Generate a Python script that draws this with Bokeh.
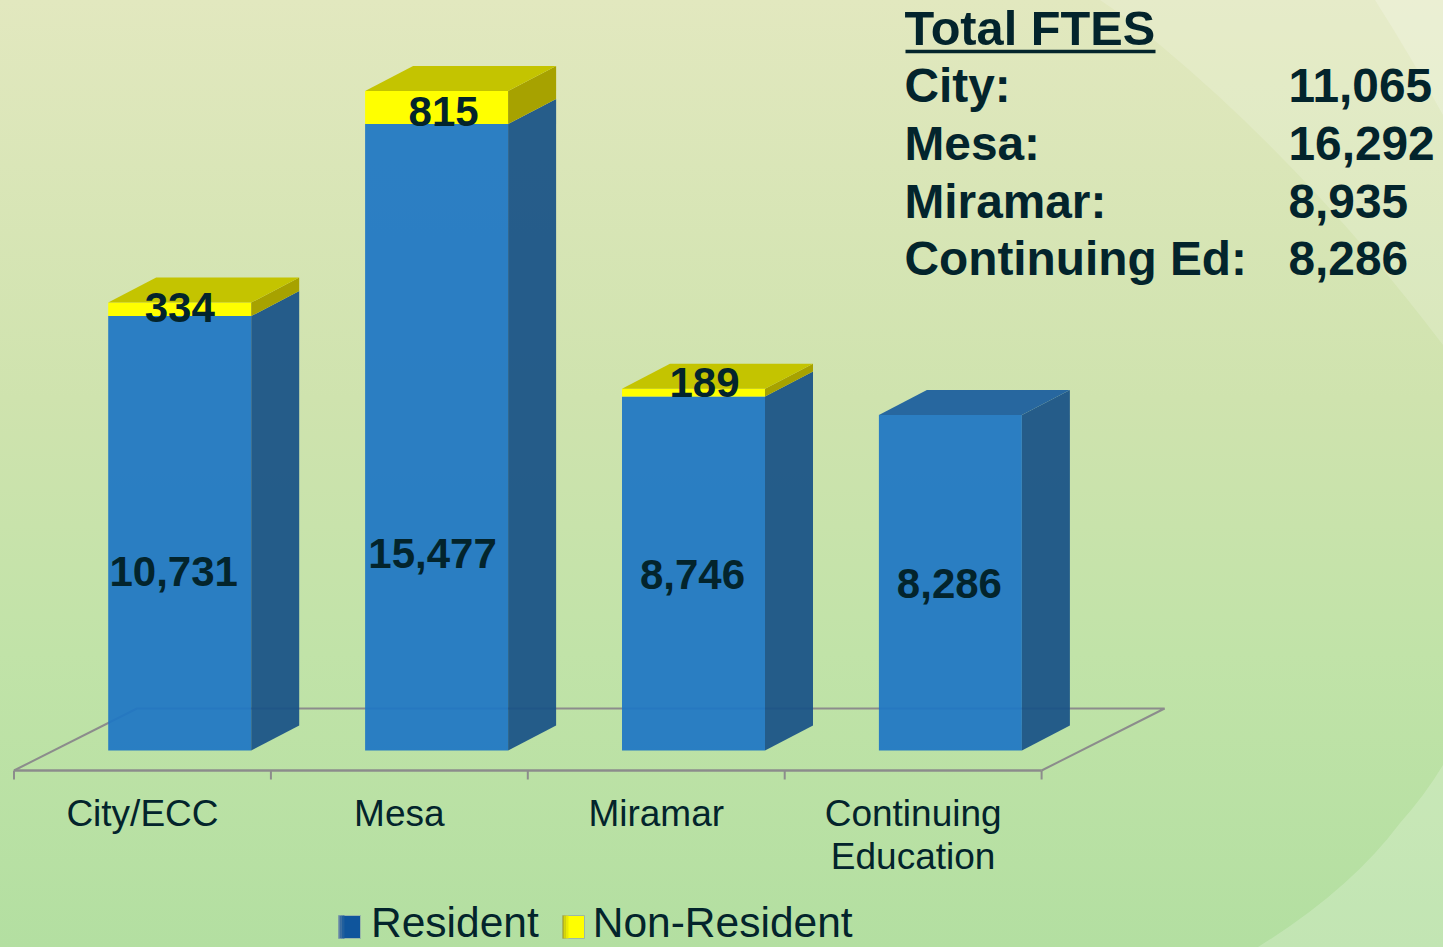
from urllib.parse import quote
from bokeh.plotting import figure
from bokeh.models import Range1d, Legend, LegendItem, ColumnDataSource
from bokeh.core.properties import value
from bokeh.embed import file_html
from bokeh.resources import INLINE

categories = ["City/ECC", "Mesa", "Miramar", "Continuing\nEducation"]
resident = [10731, 15477, 8746, 8286]
non_resident = [334, 815, 189, 0]
resident_labels = ["10,731", "15,477", "8,746", "8,286"]
non_resident_labels = ["334", "815", "189", ""]
summary_names = ["City:", "Mesa:", "Miramar:", "Continuing Ed:"]
summary_values = ["11,065", "16,292", "8,935", "8,286"]
summary_title = "Total FTES"

# Layout constants (reference pixels)
W, H = 1443, 947
PX_PER_X, PX_PER_Y = 256.9, 0.04048
X0_PX, Y0_PX = 13.5, 750
def dx(px): return px / PX_PER_X
def dy(px): return px / PX_PER_Y
def xd(px): return (px - X0_PX) / PX_PER_X
def yd(px): return (Y0_PX - px) / PX_PER_Y

FONT = "Liberation Sans"
INK = "#03242c"
BLUE, BLUE_SIDE, BLUE_TOP = "#1e76c4", "#185286", "#27679f"
YEL, YEL_SIDE, YEL_TOP = "#ffff00", "#a7a200", "#c4c400"
GRID = "#8c8c8c"
SWATCH_BLUE = ["#5f83a5", "#3d6fa0", "#1f5f9d", "#0f559c"]
SWATCH_YEL = ["#b5b51a", "#d0d010", "#eaea05", "#ffff00"]

p = figure(width=W, height=H, x_range=Range1d(xd(0), xd(W)),
           y_range=Range1d(yd(H), yd(0)), output_backend="svg",
           toolbar_location=None, min_border=0, outline_line_color=None,
           background_fill_color=None, border_fill_color=None,
           x_axis_type=None, y_axis_type=None)
p.grid.visible = False

# Floor and ticks
n = len(categories)
fy, fdx, fdy = yd(770), dx(123), dy(62)
p.line([0, fdx, n + fdx, n], [fy, fy + fdy, fy + fdy, fy], line_color=GRID, line_width=2)
p.line([0, n], [fy, fy], line_color=GRID, line_width=2.5)
p.segment(x0=list(range(n + 1)), y0=[fy] * (n + 1), x1=list(range(n + 1)),
          y1=[yd(779)] * (n + 1), line_color=GRID, line_width=2)

# Bars
left = [i + dx(94.2) for i in range(n)]
right = [l + dx(143) for l in left]
tops = [r + q for r, q in zip(resident, non_resident)]
ox, oy = dx(48), dy(25)
A = 0.93
p.quad(left=left, right=right, bottom=[0] * n, top=resident, fill_color=BLUE,
       fill_alpha=A, line_color=None)
p.quad(left=left, right=right, bottom=resident, top=tops, fill_color=YEL, line_color=None)
p.patches([[r, r + ox, r + ox, r] for r in right],
          [[0, oy, v + oy, v] for v in resident],
          fill_color=BLUE_SIDE, fill_alpha=A, line_color=None)
p.patches([[r, r + ox, r + ox, r] for r in right],
          [[a, a + oy, b + oy, b] for a, b in zip(resident, tops)],
          fill_color=YEL_SIDE, line_color=None)
p.patches([[l, r, r + ox, l + ox] for l, r in zip(left, right)],
          [[t, t, t + oy, t + oy] for t in tops],
          fill_color=[YEL_TOP if q else BLUE_TOP for q in non_resident], line_color=None)

# Value labels
res_shift = [(-6, 38), (-4, 116), (-1, 1), (-1, 1)]
p.text(x=[(l + r) / 2 for l, r in zip(left, right)], y=[v / 2 for v in resident],
       text=resident_labels, text_font=value(FONT), text_font_style="bold",
       text_font_size="42px", text_color=INK, text_align="center", text_baseline="middle",
       x_offset=[s[0] for s in res_shift], y_offset=[s[1] for s in res_shift])
non_shift = [0, 7, 11, 0]
p.text(x=[(l + r) / 2 + dx(s) for l, r, s in zip(left, right, non_shift)],
       y=[t + dy(d) for t, d in zip(tops, [-5, -21, 6, 0])],
       text=non_resident_labels, text_font=value(FONT), text_font_style="bold",
       text_font_size="42px", text_color=INK, text_align="center", text_baseline="middle")

# Category labels
p.text(x=[i + 0.5 for i in range(n)], y=[yd(792)] * n, text=categories, text_font=value(FONT),
       text_font_size="37px", text_color=INK, text_align="center", text_baseline="top",
       text_line_height=1.06)

# Summary table
rows = [27, 85, 143, 201, 258]
p.text(x=[xd(904)], y=[yd(rows[0])], text=[summary_title],
       text_font=value(FONT), text_font_style="bold", text_font_size="48.7px", text_color=INK,
       text_baseline="middle")
p.text(x=[xd(904)] * 4, y=[yd(r) for r in rows[1:]], text=summary_names,
       text_font=value(FONT), text_font_style="bold", text_font_size="47.8px", text_color=INK,
       text_baseline="middle")
p.text(x=[xd(1288)] * 4, y=[yd(r) for r in rows[1:]], text=summary_values,
       text_font=value(FONT), text_font_style="bold", text_font_size="47.8px", text_color=INK,
       text_baseline="middle")
p.line([xd(905), xd(1155)], [yd(51), yd(51)], line_color=INK, line_width=3.5)

# Legend: its keys are shown by the shaded swatches drawn below
offscreen = dict(left=[-9], right=[-8], bottom=[0], top=[1])
r1 = p.quad(source=ColumnDataSource(offscreen), left="left", right="right", bottom="bottom", top="top",
            fill_color=SWATCH_BLUE[-1], fill_alpha=0, line_color=None)
r2 = p.quad(source=ColumnDataSource(offscreen), left="left", right="right", bottom="bottom", top="top",
            fill_color=YEL, fill_alpha=0, line_color=None)
legend = Legend(items=[LegendItem(label="Resident", renderers=[r1]),
                       LegendItem(label="Non-Resident", renderers=[r2])],
                orientation="horizontal", location=(335, 0), background_fill_alpha=0,
                border_line_color=None, padding=0, margin=0, spacing=18, glyph_width=27,
                glyph_height=16, label_standoff=9, label_text_font=FONT,
                label_text_font_size="42.5px", label_text_color=INK)
p.add_layout(legend)

for x_start, shades in ((338, SWATCH_BLUE), (562, SWATCH_YEL)):
    p.quad(left=[xd(x_start)], right=[xd(x_start + 22)], bottom=[yd(938)], top=[yd(915)],
           fill_color=shades[-1], line_color="#9ab8a8", line_width=1, level="overlay")
    p.quad(left=[xd(x_start + 2 * i) for i in range(3)],
           right=[xd(x_start + 2 * i + 2) for i in range(3)],
           bottom=[yd(938)] * 3, top=[yd(915)] * 3,
           fill_color=shades[:3], line_color=None, level="overlay")

svg = ('<svg xmlns="http://www.w3.org/2000/svg" viewBox="0 0 1443 947" width="1443" height="947">'
       '<path fill="#ffffff" fill-opacity="0.16" d="M1100 0 Q1130 20 1160 45 Q1310 170 1443 345 L1443 0 Z"/>'
       '<path fill="#ffffff" fill-opacity="0.2" d="M1375 0 Q1410 55 1443 115 L1443 0 Z"/>'
       '<path fill="#ffffff" fill-opacity="0.2" d="M1258 947 Q1350 890 1400 823 Q1425 795 1443 765 L1443 947 Z"/>'
       '</svg>')
css = ('<style>html{height:947px;overflow:hidden;background:url("data:image/svg+xml,' + quote(svg) +
       '") 0 0/1443px 947px no-repeat,linear-gradient(180deg,#e2e8bf 0%,#cfe3ae 42%,#c1e3a8 69%,#b3dfa1 100%);}</style>')
html = file_html(p, INLINE).replace("</head>", css + "</head>", 1)
open("out.html", "w").write(html)
